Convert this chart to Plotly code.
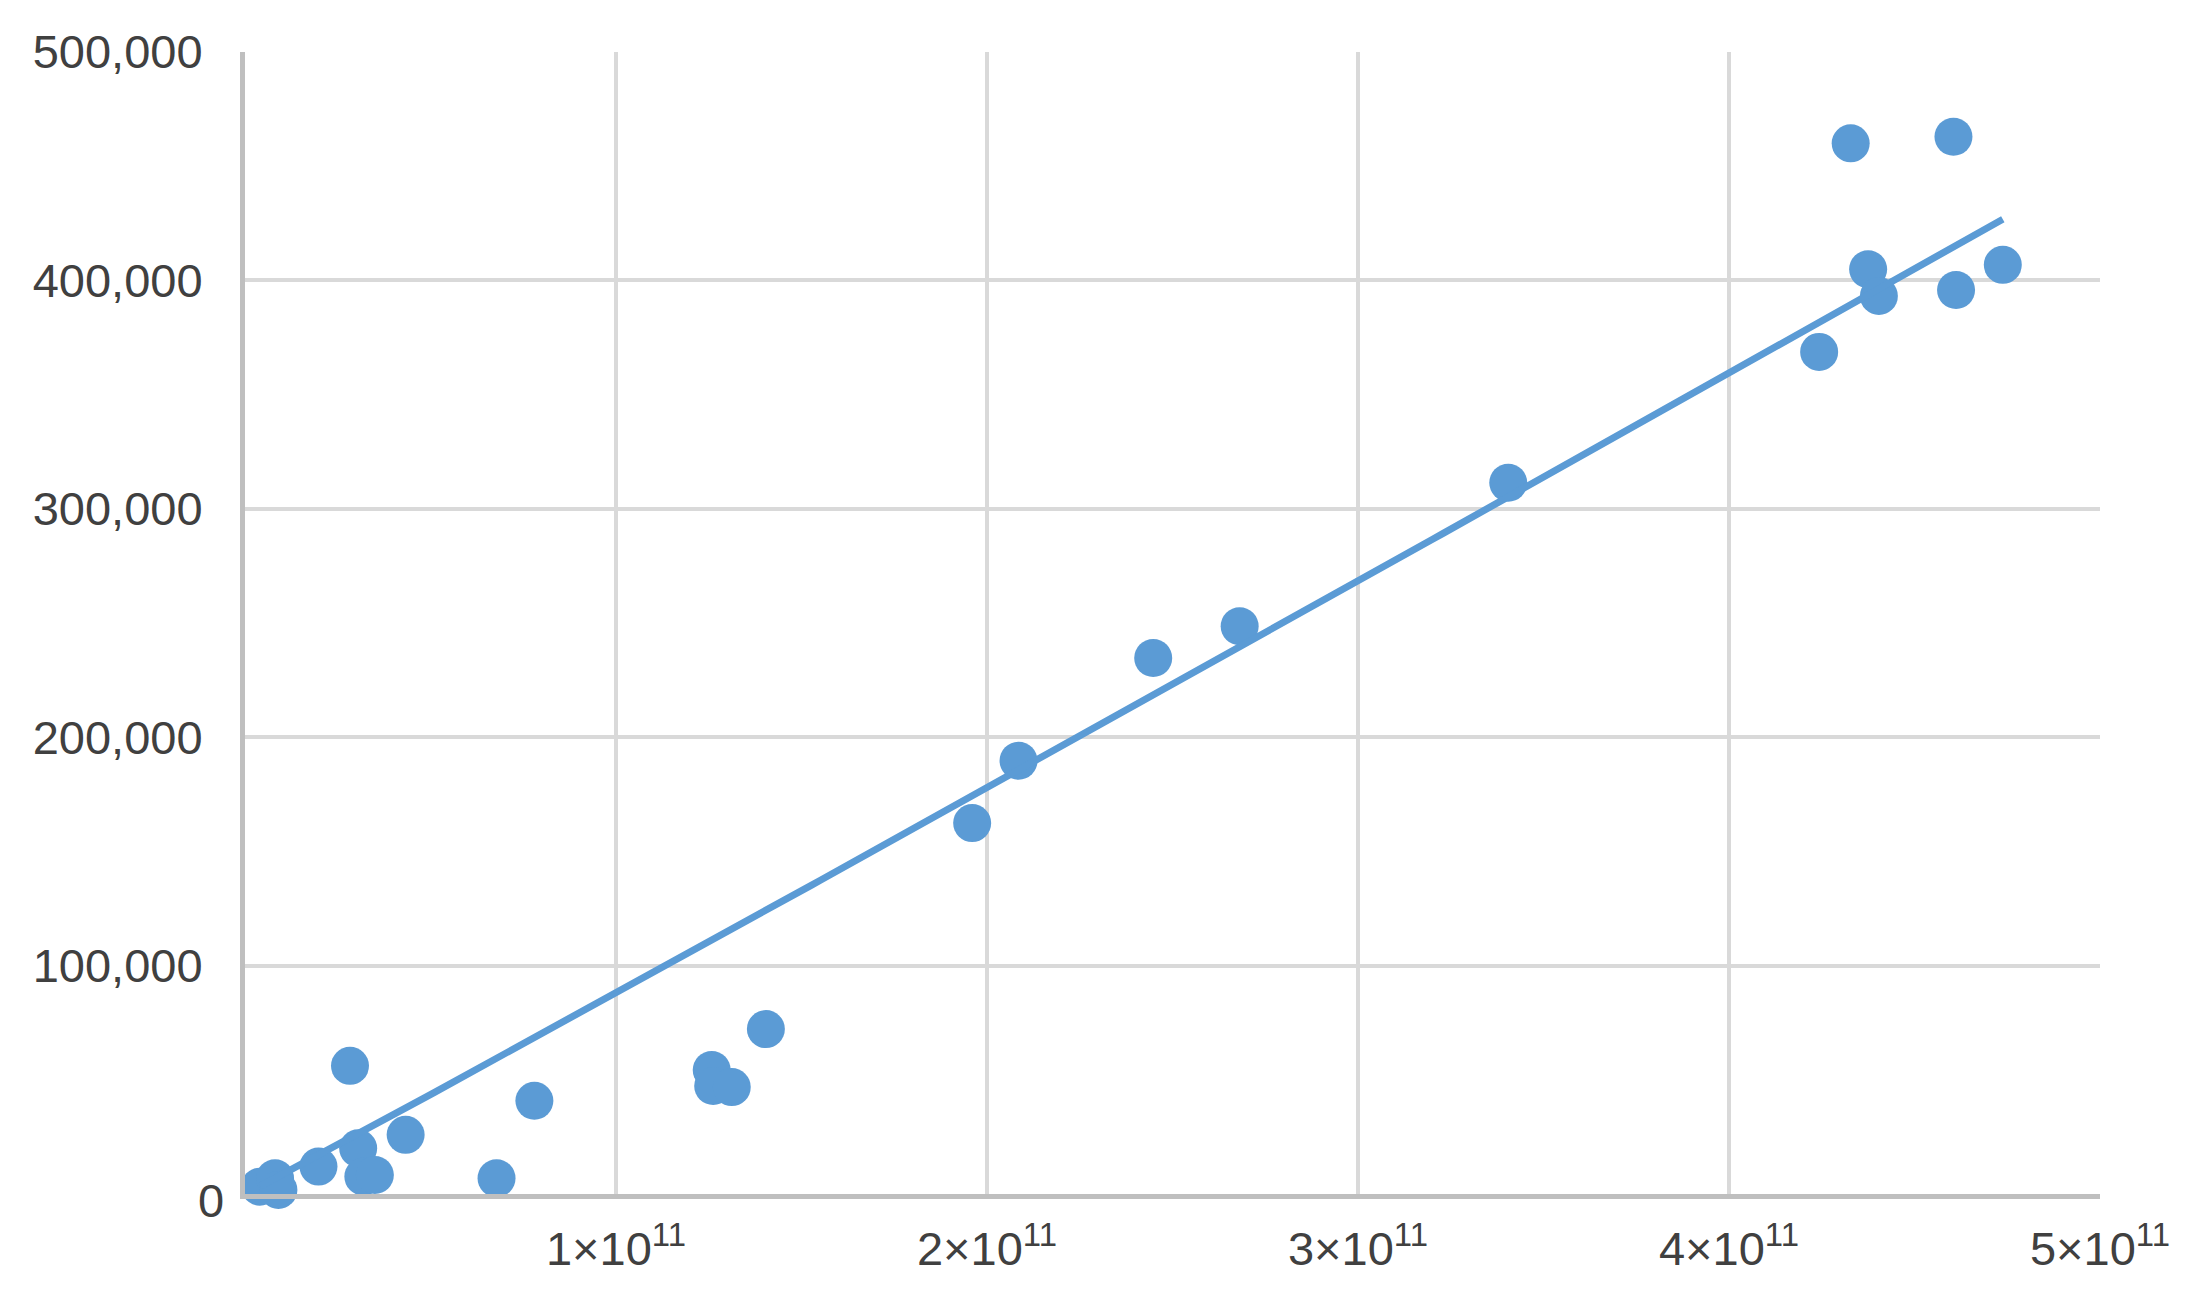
import numpy as np
import plotly.graph_objects as go

# ---- data ----
x_vals = [4.328e11, 4.605e11, 4.375e11, 4.404e11, 4.612e11, 4.738e11, 4.243e11,
          3.405e11, 2.681e11, 2.448e11, 2.085e11, 1.960e11,
          1.404e11, 1.258e11, 1.262e11, 1.312e11,
          0.780e11, 0.678e11, 0.283e11, 0.433e11, 0.198e11,
          0.305e11, 0.319e11, 0.350e11, 0.040e11, 0.081e11, 0.090e11]
y_vals = [460000, 462900, 404900, 393200, 395800, 406800, 368700,
          311400, 248600, 234700, 189700, 162400,
          72200, 54300, 47300, 46800,
          40800, 6900, 56100, 25900, 12000,
          20000, 7600, 8300, 3200, 6900, 1800]

# power trendline y = a * (x/1e11)^b * 1e5 (coefficients)
trend_a = 0.88
trend_b = 1.015

x_tickvals = [1e11, 2e11, 3e11, 4e11, 5e11]
x_ticktext = ["1×10<sup>11</sup>", "2×10<sup>11</sup>", "3×10<sup>11</sup>",
              "4×10<sup>11</sup>", "5×10<sup>11</sup>"]
y_tickvals = [0, 100000, 200000, 300000, 400000, 500000]
y_ticktext = ["", "100,000", "200,000", "300,000", "400,000", "500,000"]
zero_label = "0"

BLUE = "#5B9BD5"
TEXT = "#404040"
FONT = "Liberation Sans, Arial, sans-serif"

tx = np.linspace(min(x_vals), max(x_vals), 200)
ty = trend_a * (tx / 1e11) ** trend_b * 1e5

fig = go.Figure()
fig.add_trace(go.Scatter(x=x_vals, y=y_vals, mode="markers",
                         marker=dict(color=BLUE, size=38, line=dict(width=0)),
                         cliponaxis=False, showlegend=False))
fig.add_trace(go.Scatter(x=tx, y=ty, mode="lines",
                         line=dict(color=BLUE, width=7),
                         cliponaxis=False, showlegend=False))

fig.update_layout(
    width=2207, height=1315,
    margin=dict(l=237, r=115, t=44, b=129, autoexpand=False),
    paper_bgcolor="white", plot_bgcolor="white",
    font=dict(family=FONT, size=47, color=TEXT),
)
fig.update_xaxes(range=[0, 5e11], tickvals=x_tickvals, ticktext=x_ticktext,
                 showgrid=True, gridcolor="#d9d9d9", gridwidth=4,
                 zeroline=False, showline=True, linecolor="#bfbfbf", linewidth=5,
                 ticks="outside", ticklen=10, tickcolor="rgba(0,0,0,0)",
                 tickfont=dict(family=FONT, size=47, color=TEXT))
fig.update_yaxes(range=[0, 500000], tickvals=y_tickvals, ticktext=y_ticktext,
                 showgrid=True, gridcolor="#d9d9d9", gridwidth=4,
                 zeroline=False, showline=True, linecolor="#bfbfbf", linewidth=5,
                 ticks="outside", ticklen=28, tickcolor="rgba(0,0,0,0)",
                 tickfont=dict(family=FONT, size=47, color=TEXT))

fig.add_annotation(text=zero_label, xref="paper", yref="y", x=0, y=0,
                   xanchor="right", yanchor="middle", xshift=-19, yshift=-6,
                   showarrow=False, font=dict(family=FONT, size=47, color=TEXT))

fig.write_html("out.html")
